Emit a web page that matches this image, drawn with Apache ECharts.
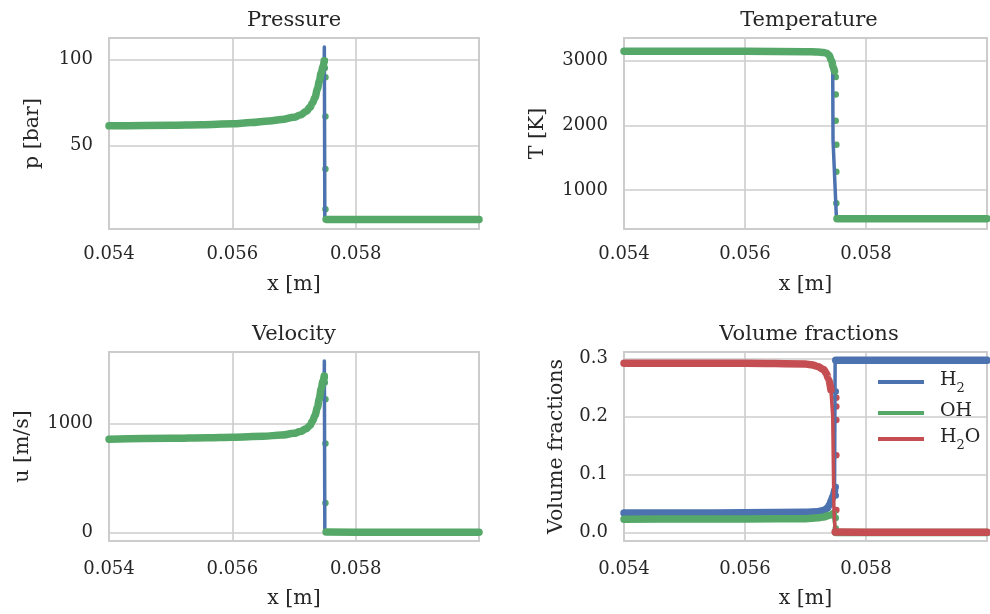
<!DOCTYPE html>
<html>
<head>
<meta charset="utf-8">
<script src="https://cdn.jsdelivr.net/npm/echarts@6/dist/echarts.min.js"></script>
<style>
  html, body { margin: 0; padding: 0; background: #fff; }
  #main { width: 990px; height: 614px; }
</style>
</head>
<body>
<div id="main"></div>
<script>
// tick labels
var xTicks = [0.054, 0.056, 0.058];
var pTicks = [50, 100];
var tTicks = [1000, 2000, 3000];
var uTicks = [0, 1000];
var fTicks = [0, 0.1, 0.2, 0.3];

// pressure [bar]: simulation line (blue) and reference points (green)
var pSimX = [0.054, 0.055, 0.0555, 0.056, 0.0563, 0.0566, 0.0568, 0.057, 0.0571, 0.0572, 0.05726, 0.0573, 0.05734, 0.05738, 0.05741, 0.05744, 0.05747, 0.05749, 0.057492, 0.0575, 0.05752, 0.058, 0.06];
var pSim  = [61.5, 61.9, 62.2, 62.7, 63.4, 64.4, 65.2, 66.5, 67.8, 70.0, 72.3, 74.8, 78.0, 83.0, 87.5, 92.3, 96.0, 100.0, 107.4, 7.0, 7.0, 6.9, 6.9];
var pRefX = [0.054, 0.055, 0.0555, 0.056, 0.0563, 0.0566, 0.0568, 0.057, 0.0571, 0.0572, 0.05726, 0.0573, 0.05734, 0.05738, 0.05741, 0.05744, 0.05747, 0.05749];
var pRef  = [61.5, 61.9, 62.2, 62.7, 63.4, 64.4, 65.2, 66.5, 67.8, 70.0, 72.3, 74.8, 78.0, 83.0, 87.5, 92.3, 96.0, 99.5];
var pRefRX = [0.05752, 0.058, 0.06];
var pRefR  = [7.0, 6.9, 6.9];
var pDotX = [0.0575, 0.0575, 0.05751, 0.05751, 0.05751, 0.05751];
var pDot  = [99.5, 95.2, 89.9, 67.0, 36.3, 12.9];

// temperature [K]
var tSimX = [0.054, 0.055, 0.056, 0.057, 0.0572, 0.0573, 0.05735, 0.05739, 0.05743, 0.05745, 0.057455, 0.05751, 0.05753, 0.058, 0.06];
var tSim  = [3145, 3147, 3147, 3140, 3135, 3128, 3115, 3085, 3000, 2810, 1780, 590, 560, 560, 560];
var tRefX = [0.054, 0.055, 0.056, 0.057, 0.0572, 0.0573, 0.05735, 0.05739, 0.05743, 0.05746, 0.05748];
var tRef  = [3145, 3147, 3147, 3140, 3135, 3128, 3115, 3085, 3000, 2900, 2840];
var tRefRX = [0.05752, 0.058, 0.06];
var tRefR  = [560, 560, 560];
var tDotX = [0.0575, 0.0575, 0.0575, 0.05751, 0.05751, 0.05751];
var tDot  = [2747, 2478, 2074, 1702, 1284, 798];

// velocity [m/s]
var uSimX = [0.054, 0.055, 0.0556, 0.056, 0.0565, 0.0568, 0.057, 0.0571, 0.0572, 0.05726, 0.0573, 0.05734, 0.05738, 0.05741, 0.05744, 0.05747, 0.05749, 0.057492, 0.0575, 0.05752, 0.058, 0.06];
var uSim  = [858, 866, 872, 877, 886, 896, 912, 928, 955, 985, 1025, 1075, 1150, 1230, 1320, 1390, 1440, 1578, 5, 3, 3, 3];
var uRefX = [0.054, 0.055, 0.0556, 0.056, 0.0565, 0.0568, 0.057, 0.0571, 0.0572, 0.05726, 0.0573, 0.05734, 0.05738, 0.05741, 0.05744, 0.05747, 0.05749];
var uRef  = [858, 866, 872, 877, 886, 896, 912, 928, 955, 985, 1025, 1075, 1150, 1230, 1320, 1390, 1440];
var uRefRX = [0.05752, 0.058, 0.06];
var uRefR  = [5, 3, 3];
var uDotX = [0.0575, 0.0575, 0.05751, 0.05751, 0.05751];
var uDot  = [1426, 1380, 1225, 819, 271];

// volume fractions
var h2X  = [0.054, 0.055, 0.056, 0.057, 0.0572, 0.0573, 0.05736, 0.0574, 0.05743, 0.05746, 0.05748, 0.05749, 0.0575, 0.058, 0.06];
var h2   = [0.0338, 0.0338, 0.034, 0.0348, 0.036, 0.038, 0.042, 0.048, 0.056, 0.064, 0.072, 0.2967, 0.2967, 0.2967, 0.2967];
var h2DotX = [0.0575, 0.0575, 0.0575];
var h2Dot  = [0.243, 0.0786, 0.064];
var ohX  = [0.054, 0.055, 0.056, 0.057, 0.0572, 0.0573, 0.0574, 0.05746, 0.05749, 0.0575, 0.058, 0.06];
var oh   = [0.0231, 0.0232, 0.0235, 0.024, 0.0255, 0.027, 0.030, 0.033, 0.030, 0.0, 0.0, 0.0];
var ohDotX = [0.0575, 0.0575];
var ohDot  = [0.025, 0.007];
var h2oX = [0.054, 0.055, 0.056, 0.057, 0.0571, 0.0572, 0.0573, 0.05734, 0.05738, 0.05742, 0.05745, 0.05747, 0.05749, 0.058, 0.06];
var h2o  = [0.2917, 0.2917, 0.2915, 0.2905, 0.289, 0.2862, 0.281, 0.275, 0.265, 0.246, 0.2, 0.04, 0.001, 0.0005, 0.0005];
var h2oDotX = [0.05751, 0.05751, 0.05751, 0.05751, 0.05751];
var h2oDot  = [0.232, 0.217, 0.194, 0.133, 0.039];

var BLUE = '#4c72b0', GREEN = '#55a868', RED = '#c44e52';
var TXT = '#262626', GRIDC = '#cccccc';
var FONT = 'DejaVu Serif';

function zip(xs, ys) {
  var out = [];
  for (var i = 0; i < xs.length; i++) out.push([xs[i], ys[i]]);
  return out;
}
// keep only points left of lo or right of hi (dense part of the data)
function outside(xs, ys, lo, hi) {
  var a = [], b = [];
  for (var i = 0; i < xs.length; i++) {
    if (xs[i] <= lo) a.push([xs[i], ys[i]]);
    if (xs[i] >= hi) b.push([xs[i], ys[i]]);
  }
  return [a, b];
}
function inList(list, v, eps) {
  for (var i = 0; i < list.length; i++) if (Math.abs(list[i] - v) < eps) return true;
  return false;
}

var myChart = echarts.init(document.getElementById('main'));

var grids = [
  { left: 109, top: 38, width: 370, height: 191 },
  { left: 624, top: 38, width: 370, height: 191 },
  { left: 109, top: 352, width: 370, height: 189 },
  { left: 624, top: 352, width: 370, height: 189 }
];
grids.forEach(function (g) {
  g.show = true; g.borderColor = GRIDC; g.borderWidth = 2; g.backgroundColor = 'transparent';
});

function xAxis(i, margin, gap) {
  return {
    type: 'value', gridIndex: i, min: 0.054, max: 0.06, interval: 0.002,
    axisLine: { show: false }, axisTick: { show: false },
    splitLine: { show: true, lineStyle: { color: GRIDC, width: 1.6 } },
    axisLabel: {
      color: TXT, fontFamily: FONT, fontSize: 18, margin: margin,
      formatter: function (v) { return inList(xTicks, v, 1e-9) ? v.toFixed(3) : ''; }
    },
    name: 'x [m]', nameLocation: 'middle', nameGap: gap,
    nameTextStyle: { color: TXT, fontFamily: FONT, fontSize: 20.5 }
  };
}
function yAxis(i, min, max, step, ticks, digits, name, gap) {
  return {
    type: 'value', gridIndex: i, min: min, max: max, minInterval: step, maxInterval: step,
    axisLine: { show: false }, axisTick: { show: false },
    splitLine: { show: true, lineStyle: { color: GRIDC, width: 1.6 } },
    axisLabel: {
      color: TXT, fontFamily: FONT, fontSize: 18, margin: 16,
      formatter: function (v) { return inList(ticks, v, step * 1e-6) ? v.toFixed(digits) : ''; }
    },
    name: name, nameLocation: 'middle', nameGap: gap,
    nameTextStyle: { color: TXT, fontFamily: FONT, fontSize: 20.5 }
  };
}

function line(i, data, color, width, name, smooth) {
  return {
    type: 'line', name: name, xAxisIndex: i, yAxisIndex: i, data: data,
    showSymbol: false, symbol: 'none', silent: true,
    smooth: smooth ? 0.35 : false, smoothMonotone: 'x',
    lineStyle: { color: color, width: width, cap: 'round', join: 'round' },
    itemStyle: { color: color }
  };
}
function dots(i, data, color) {
  return {
    type: 'scatter', xAxisIndex: i, yAxisIndex: i, data: data, silent: true,
    symbol: 'circle', symbolSize: 6.5, itemStyle: { color: color, opacity: 1 }
  };
}

var BAND = 7.5, THIN = 3.5;
var series = [];
// pressure
series.push(line(0, zip(pSimX, pSim), BLUE, THIN));
series.push(line(0, zip(pRefX, pRef), GREEN, BAND, null, true));
series.push(line(0, zip(pRefRX, pRefR), GREEN, BAND));
series.push(dots(0, zip(pDotX, pDot), GREEN));
// temperature
series.push(line(1, zip(tSimX, tSim), BLUE, THIN));
series.push(line(1, zip(tRefX, tRef), GREEN, BAND, null, true));
series.push(line(1, zip(tRefRX, tRefR), GREEN, BAND));
series.push(dots(1, zip(tDotX, tDot), GREEN));
// velocity
series.push(line(2, zip(uSimX, uSim), BLUE, THIN));
series.push(line(2, zip(uRefX, uRef), GREEN, BAND, null, true));
series.push(line(2, zip(uRefRX, uRefR), GREEN, BAND));
series.push(dots(2, zip(uDotX, uDot), GREEN));
// volume fractions
var sp = outside(h2X, h2, 0.05748, 0.0575);
series.push(line(3, zip(h2X, h2), BLUE, THIN, 'H₂'));
series.push(line(3, sp[0], BLUE, BAND, null, true));
series.push(line(3, sp[1], BLUE, BAND));
series.push(dots(3, zip(h2DotX, h2Dot), BLUE));
sp = outside(ohX, oh, 0.05746, 0.0575);
series.push(line(3, zip(ohX, oh), GREEN, THIN, 'OH'));
series.push(line(3, sp[0], GREEN, BAND, null, true));
series.push(line(3, sp[1], GREEN, BAND));
series.push(dots(3, zip(ohDotX, ohDot), GREEN));
sp = outside(h2oX, h2o, 0.05742, 0.05749);
series.push(line(3, zip(h2oX, h2o), RED, THIN, 'H₂O'));
series.push(line(3, sp[0], RED, BAND, null, true));
series.push(line(3, sp[1], RED, BAND));
series.push(dots(3, zip(h2oDotX, h2oDot), RED));

function title(text, x, y) {
  return {
    text: text, left: x, top: y, textAlign: 'center', padding: 0,
    textStyle: { color: TXT, fontFamily: FONT, fontSize: 21, fontWeight: 'normal' }
  };
}

var option = {
  animation: false,
  backgroundColor: '#ffffff',
  title: [
    title('Pressure', 294, 10),
    title('Temperature', 809, 10),
    title('Velocity', 294, 324),
    title('Volume fractions', 809, 324)
  ],
  legend: {
    data: ['H₂', 'OH', 'H₂O'],
    orient: 'vertical', left: 873, top: 366, itemGap: 7,
    itemWidth: 46, itemHeight: 4, icon: 'rect',
    selectedMode: false,
    formatter: function (name) { return '{n|' + name.replace(/₂/g, '}{s|2}{n|') + '}'; },
    textStyle: {
      color: TXT, fontFamily: FONT, fontSize: 19, padding: [0, 0, 0, 11],
      rich: {
        n: { color: TXT, fontFamily: FONT, fontSize: 19, lineHeight: 22, verticalAlign: 'top' },
        s: { color: TXT, fontFamily: FONT, fontSize: 13, lineHeight: 14, verticalAlign: 'top', padding: [11, 0, 0, 0] }
      }
    }
  },
  grid: grids,
  xAxis: [xAxis(0, 16, 45), xAxis(1, 16, 45), xAxis(2, 19, 47), xAxis(3, 19, 47)],
  yAxis: [
    yAxis(0, 1.4, 112.7, 50, pTicks, 0, 'p [bar]', 66),
    yAxis(1, 401, 3351, 1000, tTicks, 0, 'T [K]', 76),
    yAxis(2, -78, 1660, 1000, uTicks, 0, 'u [m/s]', 76),
    yAxis(3, -0.0145, 0.311, 0.1, fTicks, 1, 'Volume fractions', 57)
  ],
  series: series
};

myChart.setOption(option);
window.addEventListener('resize', function () { myChart.resize(); });
</script>
</body>
</html>
